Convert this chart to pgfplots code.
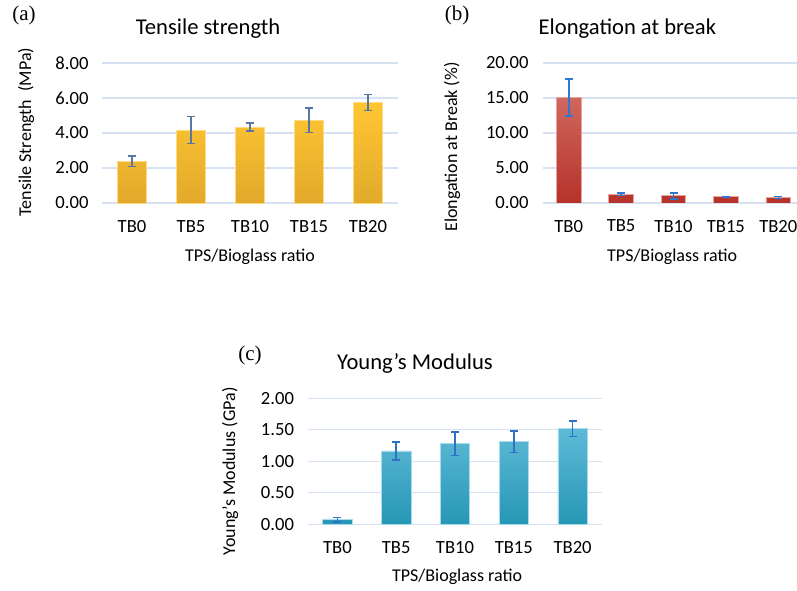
\documentclass[border=0pt]{standalone}
\usepackage{fontspec}
\setmainfont{Carlito}
\newfontfamily\panelfont{Liberation Serif}
\usepackage{pgfplots}
\pgfplotsset{compat=1.18}

\definecolor{gridc}{HTML}{D6E2F2}
\definecolor{yelTop}{HTML}{FFC633}
\definecolor{yelBot}{HTML}{E2A92B}
\definecolor{yelEdge}{HTML}{FFDA80}
\definecolor{redTop}{HTML}{D0675E}
\definecolor{redBot}{HTML}{B5322A}
\definecolor{redEdge}{HTML}{EBA39C}
\definecolor{bluTop}{HTML}{5DBAD6}
\definecolor{bluBot}{HTML}{2797B6}
\definecolor{bluEdge}{HTML}{A6DCEB}
\definecolor{errA}{HTML}{5877A3}
\definecolor{errB}{HTML}{2F78D0}
\definecolor{errC}{HTML}{2F72C4}

\pgfplotsset{
  panel/.style={
    scale only axis,
    anchor=south west,
    xmin=-0.5, xmax=4.5,
    ymin=0,
    xtick={0,1,2,3,4},
    xticklabels={TB0,TB5,TB10,TB15,TB20},
    axis line style={draw=none},
    major tick length=0pt,
    ymajorgrids,
    grid style={gridc, line width=0.6pt},
    tick label style={font=\fontsize{9.3}{11}\selectfont},
    xticklabel style={yshift=-5pt},
    yticklabel style={xshift=-3.5pt},
    /pgf/number format/assume math mode=true,
    yticklabel={\pgfmathprintnumber[fixed, fixed zerofill, precision=2]{\tick}},
    title style={font=\fontsize{11.3}{13}\selectfont, anchor=center},
    label style={font=\fontsize{9}{11}\selectfont},
    ylabel style={anchor=center, rotate=0},
    xlabel style={anchor=center},
  },
  errbars/.style={
    error bars/.cd, y dir=both, y explicit,
    error bar style={#1, line width=0.8pt},
    error mark options={rotate=90, #1, mark size=2pt, line width=0.8pt},
  },
}

\begin{document}
\begin{tikzpicture}

% (a) Tensile strength
\begin{axis}[panel,
  at={(51.25pt,193.5pt)}, width=147.5pt, height=70pt,
  ymax=8, ytick={0,2,4,6,8},
  title={Tensile strength},
  title style={at={(axis description cs:0.358,1.16)}},
  xlabel={TPS/Bioglass ratio},
  xlabel style={at={(axis description cs:0.5,-0.386)}},
  ylabel={Tensile Strength\ \ (MPa)},
  ylabel style={at={(axis description cs:-0.259,0.507)}},
]
\addplot[ybar, bar width=0.5, draw=yelEdge, line width=0.4pt,
  top color=yelTop, bottom color=yelBot, errbars=errA]
  coordinates {
    (0,2.38) +- (0,0.30)
    (1,4.17) +- (0,0.77)
    (2,4.34) +- (0,0.23)
    (3,4.72) +- (0,0.70)
    (4,5.74) +- (0,0.46)
  };
\end{axis}

% (b) Elongation at break
\begin{axis}[panel,
  at={(271.25pt,193.5pt)}, width=131pt, height=70pt,
  ymax=20, ytick={0,5,10,15,20},
  title={Elongation at break},
  title style={at={(axis description cs:0.324,1.16)}},
  xlabel={TPS/Bioglass ratio},
  xlabel style={at={(axis description cs:0.495,-0.386)}},
  ylabel={Elongation at Break (\%)},
  ylabel style={at={(axis description cs:-0.345,0.40)}},
]
\addplot[ybar, bar width=0.47, draw=redEdge, line width=0.4pt,
  top color=redTop, bottom color=redBot, errbars=errB]
  coordinates {
    (0,15.07) +- (0,2.65)
    (1,1.24) +- (0,0.15)
    (2,1.02) +- (0,0.43)
    (3,0.88) +- (0,0.06)
    (4,0.78) +- (0,0.12)
  };
\end{axis}

% (c) Young's Modulus
\begin{axis}[panel,
  at={(154pt,32.85pt)}, width=147pt, height=63pt,
  ymax=2, ytick={0,0.5,1,1.5,2},
  title={Young's Modulus},
  title style={at={(axis description cs:0.364,1.18)}},
  xlabel={TPS/Bioglass ratio},
  xlabel style={at={(axis description cs:0.507,-0.418)}},
  ylabel={Young's Modulus (GPa)},
  ylabel style={at={(axis description cs:-0.265,0.42)}},
]
\addplot[ybar, bar width=0.5, draw=bluEdge, line width=0.4pt,
  top color=bluTop, bottom color=bluBot, errbars=errC]
  coordinates {
    (0,0.07) +- (0,0.035)
    (1,1.165) +- (0,0.14)
    (2,1.28) +- (0,0.185)
    (3,1.31) +- (0,0.17)
    (4,1.515) +- (0,0.12)
  };
\end{axis}

\node[font=\panelfont\fontsize{10.5}{12}\selectfont] at (12pt,287.5pt) {(a)};
\node[font=\panelfont\fontsize{10.5}{12}\selectfont] at (228.5pt,287.5pt) {(b)};
\node[font=\panelfont\fontsize{10.5}{12}\selectfont] at (125pt,117.5pt) {(c)};

\pgfresetboundingbox
\path (0pt,0pt) rectangle (398.5pt,295pt);
\end{tikzpicture}
\end{document}
